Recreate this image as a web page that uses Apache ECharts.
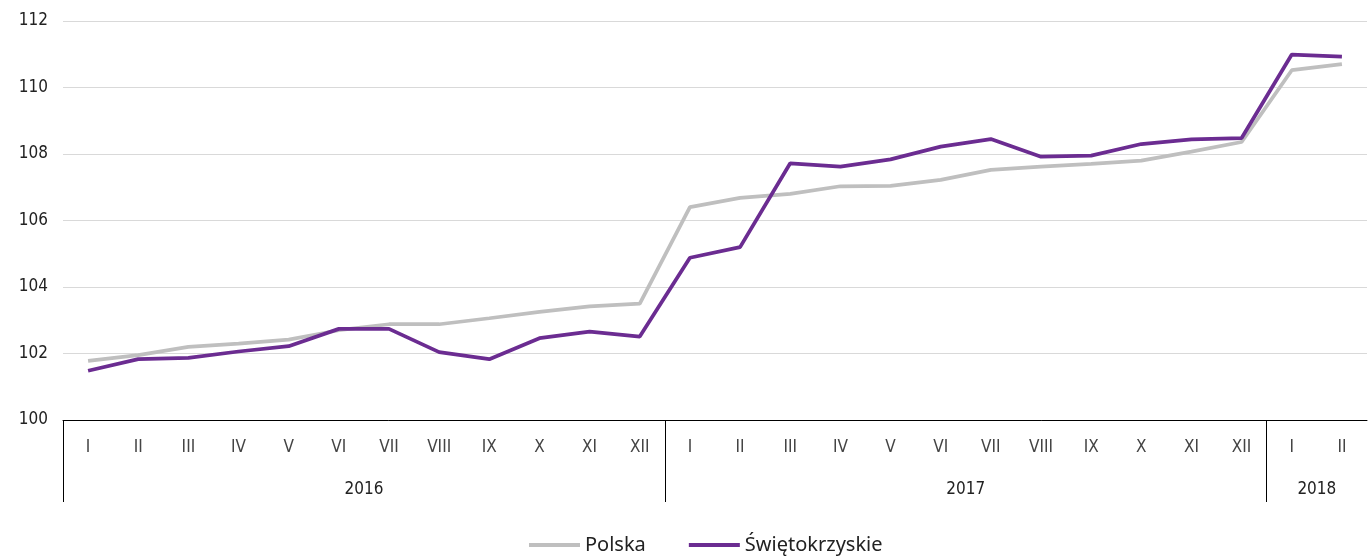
<!DOCTYPE html>
<html>
<head>
<meta charset="utf-8">
<script src="https://cdn.jsdelivr.net/npm/echarts@6/dist/echarts.min.js"></script>
<style>
html,body{margin:0;padding:0;background:#fff;}
#c{width:1368px;height:556px;}
</style>
</head>
<body>
<div id="c"></div>
<script>
const months = ['I','II','III','IV','V','VI','VII','VIII','IX','X','XI','XII',
                'I','II','III','IV','V','VI','VII','VIII','IX','X','XI','XII',
                'I','II'];
const years = ['2016','2017','2018'];
const yearMonthCounts = [12,12,2];
const polska = [101.78,101.95,102.2,102.3,102.42,102.7,102.88,102.88,103.06,103.25,103.42,103.5,
                106.4,106.68,106.8,107.03,107.04,107.22,107.52,107.62,107.7,107.8,108.07,108.36,
                110.52,110.7];
const swietokrzyskie = [101.48,101.83,101.87,102.06,102.22,102.74,102.74,102.04,101.83,102.46,102.66,102.51,
                104.88,105.2,107.72,107.62,107.84,108.22,108.45,107.92,107.95,108.3,108.44,108.48,
                110.99,110.93];
const yTicks = {min:100, max:112, interval:2};

// year boundaries and centres (in category units)
const bounds = [0];
yearMonthCounts.forEach(n => bounds.push(bounds[bounds.length-1] + n));
const centres = yearMonthCounts.map((n,i) => bounds[i] + n/2);

const font = '"DejaVu Sans Condensed", "Liberation Sans Narrow", sans-serif';
const chart = echarts.init(document.getElementById('c'), null, {renderer:'canvas'});
chart.setOption({
  animation:false,
  backgroundColor:'#ffffff',
  grid:{left:63, right:1, top:21, bottom:136, containLabel:false},
  legend:{
    top:530, left:524,
    itemWidth:51, itemHeight:4, itemGap:43,
    icon:'rect',
    textStyle:{fontFamily:'"Noto Sans", sans-serif', fontSize:20, color:'#222'},
    data:['Polska','Świętokrzyskie']
  },
  xAxis:[{
    type:'category', data:months, boundaryGap:true, position:'bottom',
    axisLine:{show:true, lineStyle:{color:'#000', width:1}},
    axisTick:{show:false},
    axisLabel:{color:'#444', fontSize:17, fontFamily:font, margin:19, interval:0}
  },{
    type:'value', min:0, max:months.length, position:'bottom',
    axisLine:{show:false},
    splitLine:{show:false},
    axisTick:{show:true, length:82, customValues:bounds.slice(0,bounds.length-1), lineStyle:{color:'#000', width:1}},
    axisLabel:{show:true, customValues:centres, margin:61, color:'#222', fontSize:17, fontFamily:font,
      formatter:function(v){ const i = centres.indexOf(v); return i>=0 ? years[i] : ''; }}
  }],
  yAxis:{
    type:'value', min:yTicks.min, max:yTicks.max, interval:yTicks.interval,
    axisLine:{show:false}, axisTick:{show:false},
    splitLine:{lineStyle:{color:'#d9d9d9', width:1}},
    axisLabel:{color:'#222', fontSize:17, fontFamily:font, margin:15}
  },
  series:[{
    name:'Polska', type:'line', xAxisIndex:0, data:polska,
    symbol:'none', lineStyle:{color:'#bfbfbf', width:3.75}, itemStyle:{color:'#bfbfbf'}
  },{
    name:'Świętokrzyskie', type:'line', xAxisIndex:0, data:swietokrzyskie,
    symbol:'none', lineStyle:{color:'#6b2c91', width:3.75}, itemStyle:{color:'#6b2c91'}
  }]
});
</script>
</body>
</html>
